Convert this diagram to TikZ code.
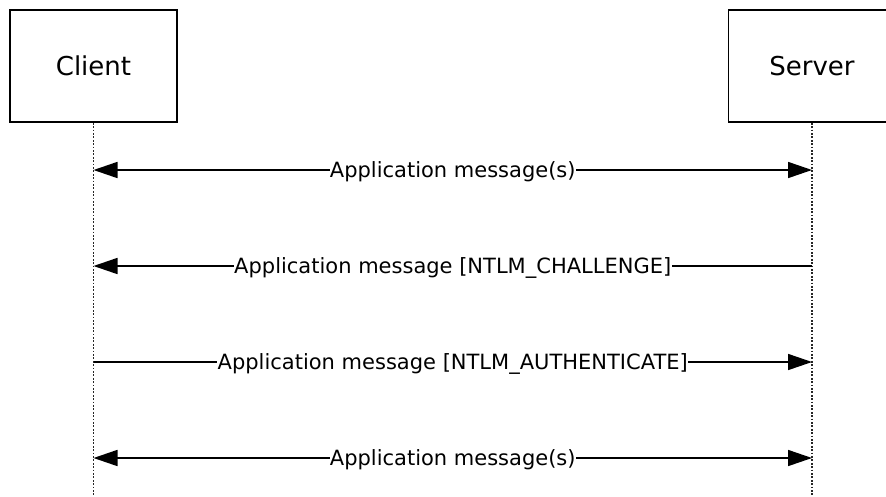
\documentclass[tikz,border=0pt]{standalone}
\usepackage{fontspec}
\setmainfont{DejaVu Sans}
\usetikzlibrary{arrows.meta}
\begin{document}
\begin{tikzpicture}[x=1pt,y=-1pt,
  actor/.style={draw=black,line width=1.7pt,minimum width=167pt,minimum height=112pt,inner sep=0pt,font=\fontsize{26}{30}\selectfont,text=black},
  lifeline/.style={draw=black!85,line width=1.8pt,dash pattern=on 1.8pt off 1.6pt},
  msg/.style={draw=black,line width=1.6pt},
  tip/.style={-{Triangle[length=24pt,width=16pt]}},
  both/.style={{Triangle[length=24pt,width=16pt]}-{Triangle[length=24pt,width=16pt]}},
  lbl/.style={midway,anchor=base,yshift=-7.5pt,fill=white,inner xsep=0.3pt,inner ysep=2pt,font=\fontsize{21}{24}\selectfont,text=black}]
\useasboundingbox (0,0) rectangle (886,496);
\clip (0,0) rectangle (886,496);
\node[actor] (client) at (93.5,66) {Client};
\node[actor] (server) at (812,66) {Server};
\coordinate (cbot) at (93.5,496);
\coordinate (sbot) at (812,496);
\draw[lifeline] (client.south) -- (cbot);
\draw[lifeline] (server.south) -- (sbot);
\coordinate (c1) at (93.5,170); \coordinate (s1) at (812,170);
\coordinate (c2) at (93.5,266); \coordinate (s2) at (812,266);
\coordinate (c3) at (93.5,362); \coordinate (s3) at (812,362);
\coordinate (c4) at (93.5,458); \coordinate (s4) at (812,458);
\draw[msg,both] (c1) -- (s1) node[lbl] {Application message(s)};
\draw[msg,tip] (s2) -- (c2) node[lbl] {Application message [NTLM\_CHALLENGE]};
\draw[msg,tip] (c3) -- (s3) node[lbl] {Application message [NTLM\_AUTHENTICATE]};
\draw[msg,both] (c4) -- (s4) node[lbl] {Application message(s)};
\end{tikzpicture}
\end{document}
